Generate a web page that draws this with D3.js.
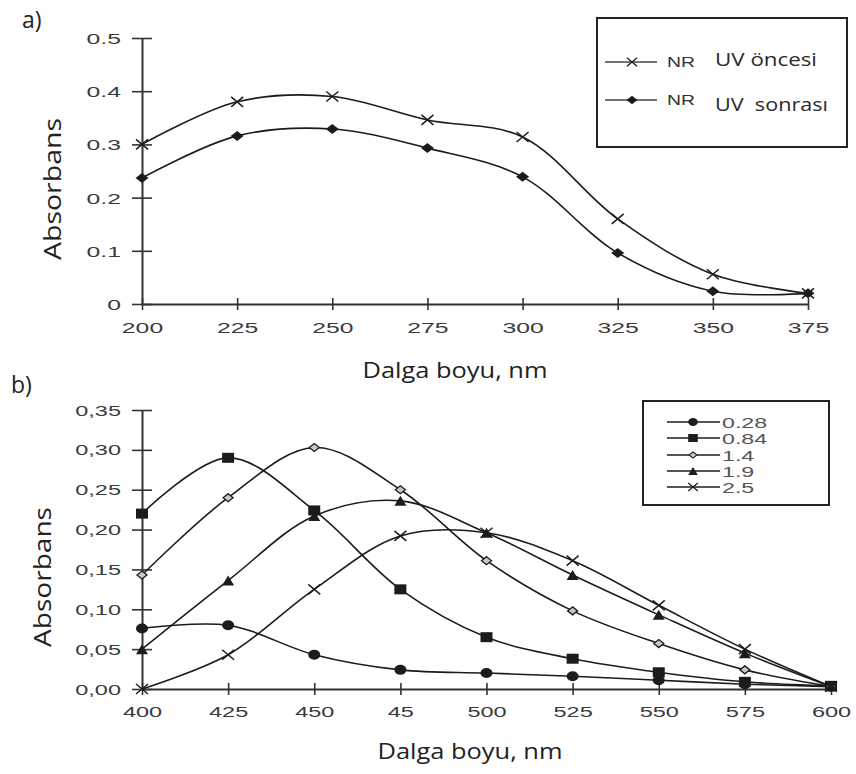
<!DOCTYPE html>
<html>
<head>
<meta charset="utf-8">
<script src="https://cdn.jsdelivr.net/npm/d3@7"></script>
<style>
  body { margin: 0; background: #fff; }
  svg { display: block; }
</style>
</head>
<body>
<div id="chart-area"></div>
<script>
// ---- panel a data ----
const wavelengthsA = [200, 225, 250, 275, 300, 325, 350, 375]
const uvOncesi = [0.300, 0.380, 0.390, 0.346, 0.314, 0.160, 0.056, 0.020]
const uvSonrasi = [0.237, 0.316, 0.329, 0.293, 0.239, 0.096, 0.024, 0.020]
const yTicksA = [0, 0.1, 0.2, 0.3, 0.4, 0.5]
const yTickLabelsA = ["0", "0.1", "0.2", "0.3", "0.4", "0.5"]
const xTickLabelsA = ["200", "225", "250", "275", "300", "325", "350", "375"]
const legendA = [["NR", "UV öncesi"], ["NR", "UV  sonrası"]]

// ---- panel b data ----
const wavelengthsB = [400, 425, 450, 475, 500, 525, 550, 575, 600]
const xTickLabelsB = ["400", "425", "450", "45", "500", "525", "550", "575", "600"]
const yTicksB = [0, 0.05, 0.10, 0.15, 0.20, 0.25, 0.30, 0.35]
const yTickLabelsB = ["0,00", "0,05", "0,10", "0,15", "0,20", "0,25", "0,30", "0,35"]
const concentrations = ["0.28", "0.84", "1.4", "1.9", "2.5"]
const s028 = [0.076, 0.080, 0.043, 0.024, 0.020, 0.016, 0.011, 0.006, 0.003]
const s084 = [0.220, 0.290, 0.224, 0.125, 0.065, 0.038, 0.021, 0.009, 0.004]
const s14 = [0.143, 0.240, 0.303, 0.250, 0.161, 0.098, 0.057, 0.024, 0.003]
const s19 = [0.050, 0.136, 0.217, 0.236, 0.196, 0.143, 0.093, 0.045, 0.003]
const s25 = [0.000, 0.043, 0.125, 0.192, 0.196, 0.161, 0.105, 0.050, 0.003]

const svg = d3.select("#chart-area")
    .append("svg")
    .attr("width", 856)
    .attr("height", 774)
    .style("font-family", "'Liberation Sans', Arial, sans-serif")

const INK = "#1c1c1c"

// marker shapes (drawn around 0,0)
const markers = {
    circle: g => g.append("ellipse").attr("rx", 6).attr("ry", 5).attr("fill", INK),
    square: g => g.append("rect").attr("x", -6).attr("y", -5).attr("width", 12).attr("height", 10).attr("fill", INK),
    diamond: g => g.append("path").attr("d", "M0,-5L6.5,0L0,5L-6.5,0Z").attr("fill", INK),
    open: g => g.append("path").attr("d", "M0,-4L5,0L0,4L-5,0Z").attr("fill", "#c8c8c8").attr("stroke", INK).attr("stroke-width", 1.3),
    triangle: g => g.append("path").attr("d", "M0,-5L6,5L-6,5Z").attr("fill", INK),
    cross: g => g.append("path").attr("d", "M-6,-5L6,5M-6,5L6,-5").attr("fill", "none").attr("stroke", INK).attr("stroke-width", 1.5)
}

// text helper: either stretched by sx or fitted to a given length
function label(parent, str, x, y, size, sx, opts = {}) {
    let tf = `translate(${x},${y})`
    if (opts.rotate) tf += ` rotate(${opts.rotate})`
    if (sx !== 1) tf += ` scale(${sx},1)`
    const t = parent.append("text")
        .attr("transform", tf)
        .attr("font-size", size)
        .attr("fill", opts.fill || "#222")
        .attr("text-anchor", opts.anchor || "start")
        .style("white-space", "pre")
        .text(str)
    if (opts.family) t.style("font-family", opts.family)
    if (opts.length) t.attr("textLength", opts.length).attr("lengthAdjust", "spacingAndGlyphs")
    return t
}

function drawAxes(xScale, yScale, xTicks, xLabels, yTicks, yLabels, sx, fsize) {
    const yAxis = d3.axisLeft(yScale)
        .tickValues(yTicks)
        .tickFormat((d, i) => yLabels[i])
        .tickSizeOuter(0)
        .tickSizeInner(10)
    const xAxis = d3.axisBottom(xScale)
        .tickValues(xTicks)
        .tickFormat((d, i) => xLabels[i])
        .tickSizeOuter(0)
        .tickSizeInner(6)

    const gy = svg.append("g")
        .attr("transform", `translate(${xScale.range()[0]},0)`)
        .call(yAxis)
    gy.selectAll(".tick line").attr("x1", -10).attr("x2", 10)
    gy.selectAll(".tick text")
        .attr("x", null).attr("dy", "0.36em")
        .attr("transform", `translate(-21,0) scale(${sx},1)`)

    const gx = svg.append("g")
        .attr("transform", `translate(0,${yScale.range()[0]})`)
        .call(xAxis)
    gx.selectAll(".tick line").attr("y1", -6).attr("y2", 6)
    gx.selectAll(".tick text")
        .attr("y", null).attr("dy", "0.36em")
        .attr("transform", `translate(0,${fsize + 9}) scale(${sx},1)`)

    ;[gx, gy].forEach(g => {
        g.attr("font-family", null).attr("font-size", fsize)
        g.select(".domain").attr("stroke", "#333").attr("stroke-width", 2)
        g.selectAll(".tick line").attr("stroke", "#333").attr("stroke-width", 1.6)
        g.selectAll(".tick text").attr("fill", "#3a3a3a")
    })
}

const curve = d3.curveCatmullRom.alpha(0.5)

function drawSeries(xScale, yScale, xs, ys, marker) {
    const line = d3.line()
        .x((d, i) => xScale(xs[i]))
        .y(d => yScale(d))
        .curve(curve)
    svg.append("path")
        .datum(ys)
        .attr("d", line)
        .attr("fill", "none")
        .attr("stroke", INK)
        .attr("stroke-width", 1.6)
    ys.forEach((v, i) => {
        const g = svg.append("g").attr("transform", `translate(${xScale(xs[i])},${yScale(v)})`)
        markers[marker](g)
    })
}

const TITLE_FONT = "'Open Sans', 'Liberation Sans', sans-serif"

// ================= panel a =================
const xA = d3.scaleLinear().domain([200, 375]).range([142, 808])
const yA = d3.scaleLinear().domain([0, 0.5]).range([304, 38])

drawAxes(xA, yA, wavelengthsA, xTickLabelsA, yTicksA, yTickLabelsA, 1.65, 15)
drawSeries(xA, yA, wavelengthsA, uvOncesi, "cross")
drawSeries(xA, yA, wavelengthsA, uvSonrasi, "diamond")

label(svg, "a)", 22, 28, 23, 1, { family: TITLE_FONT })
label(svg, "Absorbans", 61, 189, 24, 1, { rotate: -90, anchor: "middle", family: TITLE_FONT, length: 142 })
label(svg, "Dalga boyu, nm", 455, 378, 21, 1, { anchor: "middle", family: TITLE_FONT, length: 185 })

// legend a
const legA = svg.append("g")
legA.append("rect")
    .attr("x", 597).attr("y", 18).attr("width", 250).attr("height", 129)
    .attr("fill", "#fff").attr("stroke", "#222").attr("stroke-width", 2)
const legAMarkers = ["cross", "diamond"]
const legARowY = [62, 100]
const legATextY = [66, 111]
const legATextLen = [102, 113]
legendA.forEach((row, i) => {
    legA.append("line")
        .attr("x1", 605).attr("x2", 657)
        .attr("y1", legARowY[i]).attr("y2", legARowY[i])
        .attr("stroke", "#444").attr("stroke-width", 1.3)
    const g = legA.append("g").attr("transform", `translate(632,${legARowY[i]}) scale(0.85)`)
    markers[legAMarkers[i]](g)
    label(legA, row[0], 667, legARowY[i] + 5, 14, 1, { fill: "#333", length: 28 })
    label(legA, row[1], 715, legATextY[i], 18, 1, { fill: "#2a2a2a", family: TITLE_FONT, length: legATextLen[i] })
})

// ================= panel b =================
const xB = d3.scaleLinear().domain([400, 600]).range([142, 831])
const yB = d3.scaleLinear().domain([0, 0.35]).range([689, 410])

drawAxes(xB, yB, wavelengthsB, xTickLabelsB, yTicksB, yTickLabelsB, 1.68, 14)

const seriesB = [s028, s084, s14, s19, s25]
const markersB = ["circle", "square", "open", "triangle", "cross"]
seriesB.forEach((s, i) => drawSeries(xB, yB, wavelengthsB, s, markersB[i]))

label(svg, "b)", 11, 393, 23, 1, { family: TITLE_FONT })
label(svg, "Absorbans", 51, 577, 24, 1, { rotate: -90, anchor: "middle", family: TITLE_FONT, length: 140 })
label(svg, "Dalga boyu, nm", 470, 759, 21, 1, { anchor: "middle", family: TITLE_FONT, length: 185 })

// legend b
const legB = svg.append("g")
legB.append("rect")
    .attr("x", 643).attr("y", 401).attr("width", 186).attr("height", 104)
    .attr("fill", "#fff").attr("stroke", "#222").attr("stroke-width", 2)
const legBRowY = [422, 438, 455, 471, 487]
concentrations.forEach((c, i) => {
    legB.append("line")
        .attr("x1", 667).attr("x2", 720)
        .attr("y1", legBRowY[i]).attr("y2", legBRowY[i])
        .attr("stroke", INK).attr("stroke-width", 1.5)
    const g = legB.append("g").attr("transform", `translate(693,${legBRowY[i]}) scale(0.8)`)
    markers[markersB[i]](g)
    label(legB, c, 722, legBRowY[i] + 6, 15, 1.55, { fill: "#555" })
})
</script>
</body>
</html>
